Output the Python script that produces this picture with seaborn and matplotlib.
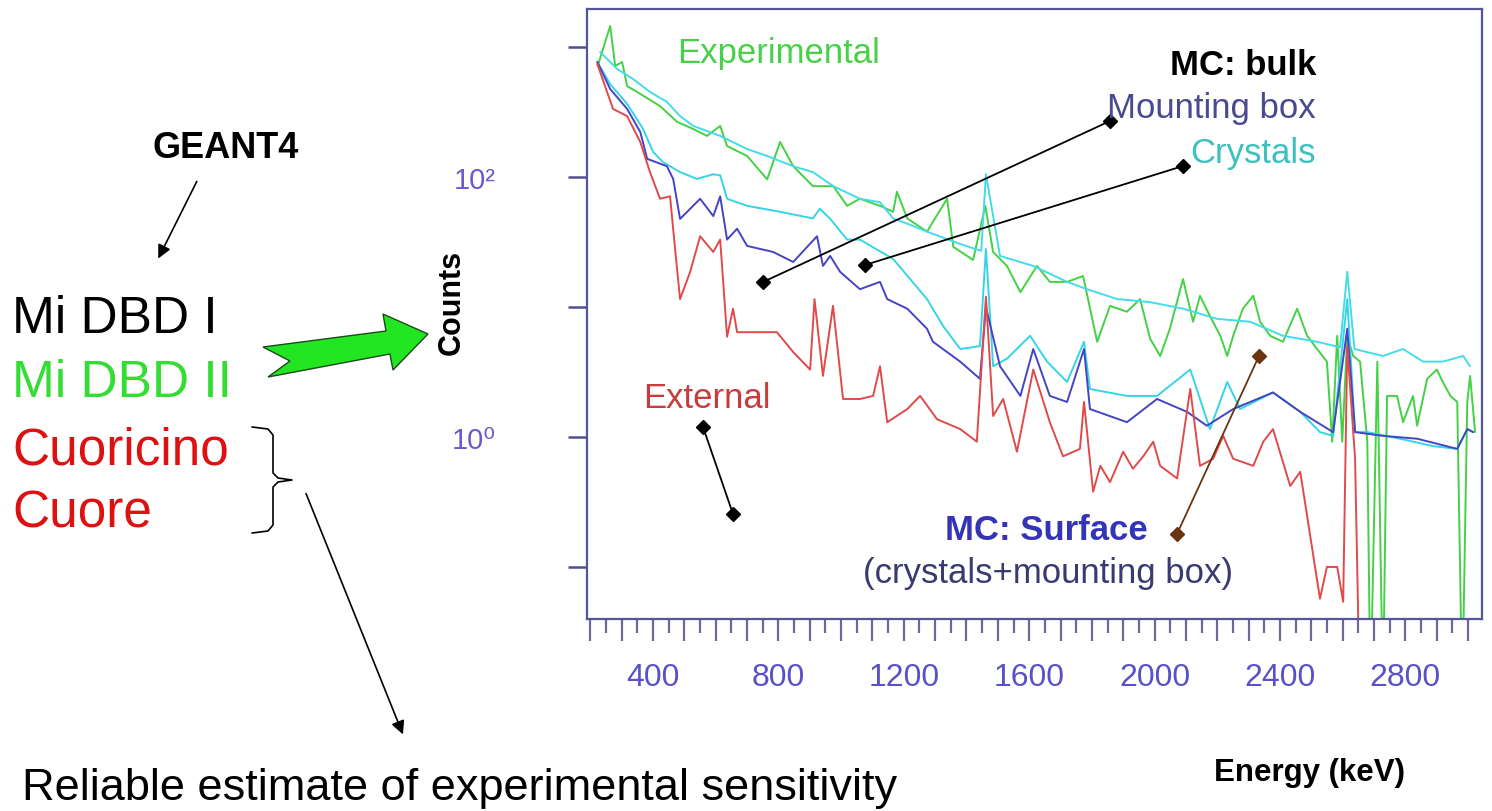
import matplotlib
matplotlib.use('Agg')
import matplotlib.pyplot as plt
import numpy as np
import pandas as pd
import seaborn as sns
from matplotlib.lines import Line2D
from matplotlib.patches import Polygon, FancyArrowPatch
from matplotlib.ticker import MultipleLocator, FuncFormatter, FixedLocator, FixedFormatter, NullLocator

# ---------------- data (energy in keV, counts) ----------------
exp_energy = [225, 263, 279, 301, 317, 349, 422, 477, 528, 572, 614, 636, 700, 764, 805, 847, 910, 975, 1019, 1060,
              1124, 1166, 1178, 1211, 1274, 1338, 1358, 1421, 1460, 1485, 1529, 1572, 1625, 1666, 1721, 1772, 1817,
              1858, 1912, 1954, 1986, 2018, 2049, 2091, 2123, 2145, 2177, 2210, 2232, 2251, 2282, 2315, 2337, 2369,
              2410, 2455, 2487, 2519, 2550, 2567, 2583, 2599, 2615, 2634, 2656, 2679, 2689, 2711, 2729, 2742, 2774,
              2793, 2825, 2838, 2870, 2901, 2920, 2944, 2966, 2982, 2998, 3007, 3023]
exp_counts = [740, 1450, 714, 767, 500, 451, 351, 265, 234, 207, 247, 173, 145, 96, 186, 121, 85, 85, 60, 68,
              60, 54, 77, 48, 38, 68, 29, 23, 60, 26.5, 20.7, 13, 20.7, 15.6, 15.6, 17.3, 5.4,
              10.2, 9.2, 11.5, 5.7, 4.2, 6.8, 16.4, 7.7, 12.2, 8.5, 6.0, 4.2, 6.0, 9.7, 12.2, 7.7, 6.0,
              5.4, 9.7, 6.0, 4.75, 3.8, 0.92, 6.0, 0.92, 6.0, 4.2, 3.8, 0.92, 0.01, 3.8, 0.01, 2.07, 2.07,
              1.3, 2.07, 1.22, 2.8, 3.3, 2.65, 2.07, 1.86, 0.01, 1.86, 2.95, 1.09]

tot_energy = [231, 285, 336, 390, 444, 486, 528, 614, 700, 764, 847, 910, 975, 1060, 1124, 1166, 1230, 1274, 1380,
              1447, 1462, 1507, 1613, 1721, 1785, 1881, 1986, 2091, 2200, 2305, 2410, 2519, 2592, 2615, 2638,
              2729, 2793, 2857, 2920, 2985, 3007]
tot_counts = [915, 678, 567, 451, 378, 294, 247, 207, 164, 145, 121, 109, 85, 68, 64, 48, 42, 38, 30.5,
              27, 105, 24.7, 20.7, 15.6, 13.7, 11.5, 10.9, 9.7, 8.1, 7.7, 6.0, 5.4, 4.9, 18.6, 4.75,
              4.2, 4.75, 3.8, 3.8, 4.2, 3.5]

cry_energy = [222, 263, 317, 368, 400, 432, 486, 540, 592, 614, 636, 700, 805, 910, 932, 964, 1019, 1060, 1166,
              1274, 1326, 1380, 1443, 1462, 1485, 1529, 1603, 1657, 1721, 1775, 1794, 1912, 2008, 2114, 2177,
              2232, 2273, 2378, 2465, 2528, 2570, 2615, 2640, 2679, 2783, 2889, 2966, 2998, 3017]
cry_counts = [767, 518, 365, 234, 156, 130, 109, 96.6, 105, 103, 68, 60, 54, 48, 57, 48, 33, 33, 23.4,
              11.5, 7.1, 4.75, 5.0, 28, 3.5, 4.0, 6.0, 3.8, 2.65, 5.4, 2.34, 2.07, 2.07, 3.3, 1.15,
              2.65, 1.64, 2.2, 1.56, 1.09, 1.02, 11.5, 1.09, 1.09, 0.97, 0.85, 0.81, 1.15, 1.09]

box_energy = [222, 263, 317, 359, 381, 444, 464, 486, 550, 592, 614, 636, 668, 700, 783, 847, 923, 942, 965, 997,
              1060, 1124, 1147, 1211, 1274, 1293, 1380, 1443, 1462, 1507, 1572, 1613, 1666, 1721, 1775, 1794,
              1912, 2008, 2104, 2167, 2251, 2378, 2465, 2570, 2615, 2640, 2729, 2838, 2966, 2998, 3017]
box_counts = [767, 475, 334, 222, 138, 121, 96.6, 47.6, 68, 50, 71, 33, 40, 29.5, 26.5, 22.2, 35, 20.7, 24.7, 18.6,
              13.7, 15.6, 11.5, 9.7, 6.8, 5.4, 3.8, 2.8, 10, 3.5, 2.07, 4.75, 2.07, 1.86, 4.75, 1.64,
              1.3, 1.96, 1.56, 1.22, 1.64, 2.2, 1.56, 1.09, 6.8, 1.09, 1.02, 0.97, 0.81, 1.15, 1.09]

ext_energy = [222, 272, 317, 359, 390, 422, 454, 471, 486, 518, 550, 592, 614, 636, 655, 668, 700, 795, 847, 901,
              915, 942, 974, 1006, 1060, 1102, 1124, 1147, 1211, 1252, 1306, 1380, 1433, 1462, 1485, 1517, 1561,
              1613, 1666, 1708, 1762, 1775, 1804, 1827, 1858, 1900, 1931, 1964, 1996, 2018, 2072, 2114, 2145,
              2187, 2219, 2251, 2315, 2347, 2378, 2433, 2465, 2528, 2550, 2583, 2602, 2615, 2640, 2655]
ext_counts = [740, 334, 294, 186, 109, 68, 71, 26.5, 11.5, 18.6, 35, 26.5, 33, 5.9, 9.7, 6.4, 6.4, 6.4, 4.5, 3.3,
              11.5, 2.95, 10.2, 1.96, 1.96, 2.07, 3.5, 1.3, 1.64, 2.07, 1.37, 1.15, 0.92, 12, 1.45, 1.96, 0.77,
              3.3, 1.3, 0.71, 0.81, 1.86, 0.38, 0.6, 0.45, 0.77, 0.57, 0.71, 0.92, 0.6, 0.48, 2.34, 0.6,
              0.68, 1.02, 0.68, 0.6, 0.92, 1.15, 0.42, 0.54, 0.057, 0.1, 0.1, 0.054, 5, 0.68, 0.01]

series_names = ['Experimental', 'MC total', 'MC crystals', 'MC mounting box', 'External']
series_colors = ['#45d145', '#45dbe8', '#35d5e5', '#4444c4', '#e04a4a']

x_tick_labels = ['400', '800', '1200', '1600', '2000', '2400', '2800']
y_tick_values = [0.1, 1, 10, 100, 1000]
y_tick_labels = ['', '10\u2070', '', '10\u00b2', '']

# ---------------- styling ----------------
sns.set_style('ticks')
SANS = ['Liberation Sans', 'DejaVu Sans']
plt.rcParams['font.family'] = SANS

W, H = 1492, 812
fig = plt.figure(figsize=(W / 100, H / 100), dpi=100)
fig.patch.set_facecolor('white')
ax = fig.add_axes([587 / W, 1 - 620 / H, 895 / W, 610 / H])


def px(x, y):
    return (x / W, 1 - y / H)


frames = []
for name, e, c in zip(series_names,
                      [exp_energy, tot_energy, cry_energy, box_energy, ext_energy],
                      [exp_counts, tot_counts, cry_counts, box_counts, ext_counts]):
    frames.append(pd.DataFrame({'energy': e, 'counts': c, 'series': name}))
df = pd.concat(frames, ignore_index=True)

sns.lineplot(data=df, x='energy', y='counts', hue='series', hue_order=series_names,
             palette=dict(zip(series_names, series_colors)), estimator=None, sort=False,
             legend=False, linewidth=1.4, ax=ax)

ax.set_yscale('log')
ax.set_xlim(189, 3045)
ax.set_ylim(0.0398, 1960)

# x ticks
ax.xaxis.set_major_locator(MultipleLocator(100))
ax.xaxis.set_minor_locator(MultipleLocator(50))
ax.xaxis.set_major_formatter(FuncFormatter(
    lambda v, p: (str(int(round(v))) if str(int(round(v))) in x_tick_labels else '')))
ax.tick_params(axis='x', which='major', length=16, width=1.6, color='#6a6a9a',
               labelsize=23, labelcolor='#5a50c8', pad=15, direction='out')
ax.tick_params(axis='x', which='minor', length=10, width=1.6, color='#6a6a9a', direction='out')

# y ticks
ax.yaxis.set_major_locator(FixedLocator(y_tick_values))
ax.yaxis.set_major_formatter(FixedFormatter(y_tick_labels))
ax.yaxis.set_minor_locator(NullLocator())
ax.tick_params(axis='y', which='major', length=14, width=1.8, color='#50508a',
               labelsize=21, labelcolor='#6a5ad0', pad=52, direction='out')

for s in ax.spines.values():
    s.set_color('#55559a')
    s.set_linewidth(1.6)

ax.set_ylabel('Counts', fontsize=22, fontweight='bold', color='black')
ax.yaxis.set_label_coords((467 - 587) / 895, (620 - 302) / 610)
ax.set_xlabel('Energy (keV)', fontsize=22.5, fontweight='bold', color='black', va='top')
ax.xaxis.set_label_coords((1310 - 587) / 895, (620 - 758) / 610)

# ---------------- in-plot annotations ----------------
def ftext(x, y, s, **kw):
    kw.setdefault('va', 'baseline')
    fig.text(*px(x, y), s, **kw)


ftext(677, 63, 'Experimental', fontsize=25, color='#48d048')
ftext(1316, 75, 'MC: bulk', fontsize=25, color='black', fontweight='bold', ha='right')
ftext(1316, 118, 'Mounting box', fontsize=25, color='#4a4a90', ha='right')
ftext(1316, 163, 'Crystals', fontsize=25, color='#3cc0c0', ha='right')
ftext(643, 408, 'External', fontsize=25, color='#c83c3c')
ftext(1148, 540, 'MC: Surface', fontsize=25, color='#3434b8', fontweight='bold', ha='right')
ftext(1233, 583, '(crystals+mounting box)', fontsize=25, color='#3a3a70', ha='right')


def pointer(p1, p2, color='black'):
    (x1, y1), (x2, y2) = px(*p1), px(*p2)
    fig.add_artist(Line2D([x1, x2], [y1, y2], transform=fig.transFigure, color=color,
                          lw=1.3, marker='D', markersize=7, markerfacecolor=color,
                          markeredgecolor=color))


pointer((763, 283), (1110, 122))
pointer((865, 266), (1183, 167))
pointer((703, 428), (733, 515))
pointer((1177, 535), (1259, 357), color='#6b3410')

# ---------------- left-side slide text ----------------
ftext(226, 158, 'GEANT4', fontsize=26, color='black', ha='center', fontweight='bold')
ftext(12, 333, 'Mi DBD I', fontsize=37, color='black')
ftext(12, 397, 'Mi DBD II', fontsize=37, color='#33dd33')
ftext(12, 465, 'Cuoricino', fontsize=37, color='#dd1111')
ftext(12, 528, 'Cuore', fontsize=37, color='#dd1111')
ftext(22, 800, 'Reliable estimate of experimental sensitivity', fontsize=32.5, color='black')

fig.add_artist(FancyArrowPatch(px(198, 180), px(157, 262), arrowstyle='-|>', mutation_scale=20,
                               lw=1.2, color='black', transform=fig.transFigure))
fig.add_artist(FancyArrowPatch(px(305, 492), px(404, 738), arrowstyle='-|>', mutation_scale=20,
                               lw=1.2, color='black', transform=fig.transFigure))

brace = [(252, 428), (268, 430), (273, 436), (273, 474), (278, 479), (292, 481), (278, 483),
         (273, 488), (273, 526), (268, 532), (252, 534)]
bx, by = zip(*[px(*p) for p in brace])
fig.add_artist(Line2D(bx, by, transform=fig.transFigure, color='black', lw=1.2))

arrow_pts = [(263, 348), (386, 332), (383, 315), (428, 335), (393, 371), (390, 355), (268, 378), (290, 362)]
fig.add_artist(Polygon([px(*p) for p in arrow_pts], closed=True, facecolor='#22e622',
                       edgecolor='#1a4a1a', lw=1.0, transform=fig.transFigure))

fig.savefig('out.png', dpi=100, facecolor='white')
